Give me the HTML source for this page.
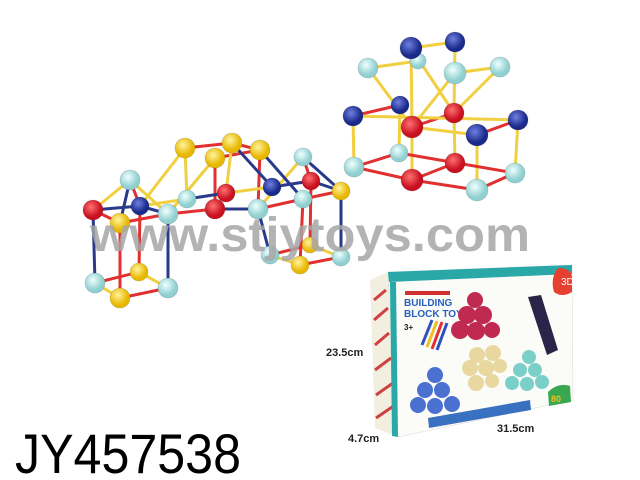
<!DOCTYPE html>
<html><head><meta charset="utf-8"><style>
html,body{margin:0;padding:0;background:#fff;width:640px;height:480px;overflow:hidden}
svg{display:block}
</style></head><body>
<svg width="640" height="480" viewBox="0 0 640 480" xmlns="http://www.w3.org/2000/svg" font-family="Liberation Sans, sans-serif">
<defs>
<radialGradient id="gy" cx="40%" cy="35%"><stop offset="0" stop-color="#fff3a0"/><stop offset="1" stop-color="#e8b800"/></radialGradient>
<radialGradient id="gr" cx="40%" cy="35%"><stop offset="0" stop-color="#ff7070"/><stop offset="1" stop-color="#c81020"/></radialGradient>
<radialGradient id="gb" cx="40%" cy="35%"><stop offset="0" stop-color="#7080e0"/><stop offset="1" stop-color="#1a2a8a"/></radialGradient>
<radialGradient id="gl" cx="40%" cy="35%"><stop offset="0" stop-color="#f0ffff"/><stop offset="1" stop-color="#90d0d0"/></radialGradient>
</defs>

<!-- left structure connectors -->
<g stroke-width="3" stroke-linecap="round">
<line x1="93" y1="210" x2="95" y2="283" stroke="#2a3a8a"/>
<line x1="120" y1="223" x2="120" y2="298" stroke="#e03030"/>
<line x1="140" y1="206" x2="139" y2="272" stroke="#e03030"/>
<line x1="168" y1="214" x2="168" y2="288" stroke="#2a3a8a"/>
<line x1="95" y1="283" x2="120" y2="298" stroke="#f0d040"/>
<line x1="120" y1="298" x2="168" y2="288" stroke="#e03030"/>
<line x1="95" y1="283" x2="139" y2="272" stroke="#e03030"/>
<line x1="139" y1="272" x2="168" y2="288" stroke="#f0d040"/>
<line x1="93" y1="210" x2="140" y2="206" stroke="#2a3a8a"/>
<line x1="93" y1="210" x2="120" y2="223" stroke="#e03030"/>
<line x1="120" y1="223" x2="168" y2="214" stroke="#e03030"/>
<line x1="140" y1="206" x2="168" y2="214" stroke="#2a3a8a"/>
<line x1="130" y1="180" x2="93" y2="210" stroke="#f0d040"/>
<line x1="130" y1="180" x2="120" y2="223" stroke="#2a3a8a"/>
<line x1="130" y1="180" x2="140" y2="206" stroke="#e03030"/>
<line x1="130" y1="180" x2="168" y2="214" stroke="#f0d040"/>
<line x1="140" y1="206" x2="185" y2="148" stroke="#f0d040"/>
<line x1="168" y1="214" x2="215" y2="158" stroke="#f0d040"/>
<line x1="185" y1="148" x2="232" y2="143" stroke="#e03030"/>
<line x1="215" y1="158" x2="260" y2="150" stroke="#e03030"/>
<line x1="232" y1="143" x2="260" y2="150" stroke="#e03030"/>
<line x1="185" y1="148" x2="187" y2="199" stroke="#f0d040"/>
<line x1="215" y1="158" x2="215" y2="209" stroke="#e03030"/>
<line x1="232" y1="143" x2="226" y2="193" stroke="#f0d040"/>
<line x1="260" y1="150" x2="258" y2="209" stroke="#e03030"/>
<line x1="232" y1="143" x2="272" y2="187" stroke="#2a3a8a"/>
<line x1="168" y1="214" x2="215" y2="209" stroke="#e03030"/>
<line x1="140" y1="206" x2="187" y2="199" stroke="#f0d040"/>
<line x1="187" y1="199" x2="226" y2="193" stroke="#2a3a8a"/>
<line x1="215" y1="209" x2="258" y2="209" stroke="#2a3a8a"/>
<line x1="226" y1="193" x2="272" y2="187" stroke="#f0d040"/>
<line x1="258" y1="209" x2="303" y2="199" stroke="#e03030"/>
<line x1="272" y1="187" x2="311" y2="181" stroke="#2a3a8a"/>
<line x1="303" y1="157" x2="258" y2="209" stroke="#f0d040"/>
<line x1="303" y1="157" x2="311" y2="181" stroke="#e03030"/>
<line x1="303" y1="157" x2="341" y2="191" stroke="#2a3a8a"/>
<line x1="303" y1="199" x2="341" y2="191" stroke="#e03030"/>
<line x1="311" y1="181" x2="341" y2="191" stroke="#2a3a8a"/>
<line x1="260" y1="150" x2="303" y2="199" stroke="#2a3a8a"/>
<line x1="258" y1="209" x2="270" y2="255" stroke="#2a3a8a"/>
<line x1="303" y1="199" x2="300" y2="265" stroke="#e03030"/>
<line x1="311" y1="181" x2="310" y2="245" stroke="#e03030"/>
<line x1="341" y1="191" x2="341" y2="257" stroke="#2a3a8a"/>
<line x1="270" y1="255" x2="300" y2="265" stroke="#f0d040"/>
<line x1="300" y1="265" x2="341" y2="257" stroke="#e03030"/>
<line x1="270" y1="255" x2="310" y2="245" stroke="#e03030"/>
<line x1="310" y1="245" x2="341" y2="257" stroke="#f0d040"/>
</g>

<!-- right structure connectors -->
<g stroke-width="3" stroke-linecap="round">
<line x1="411" y1="48" x2="455" y2="42" stroke="#f0d040"/>
<line x1="368" y1="68" x2="418" y2="61" stroke="#f0d040"/>
<line x1="455" y1="73" x2="500" y2="67" stroke="#f0d040"/>
<line x1="411" y1="48" x2="412" y2="127" stroke="#f0d040"/>
<line x1="455" y1="42" x2="454" y2="113" stroke="#f0d040"/>
<line x1="368" y1="68" x2="412" y2="127" stroke="#f0d040"/>
<line x1="411" y1="48" x2="454" y2="113" stroke="#f0d040"/>
<line x1="500" y1="67" x2="454" y2="113" stroke="#f0d040"/>
<line x1="455" y1="73" x2="412" y2="127" stroke="#f0d040"/>
<line x1="353" y1="116" x2="400" y2="105" stroke="#e03030"/>
<line x1="412" y1="127" x2="454" y2="113" stroke="#e03030"/>
<line x1="353" y1="116" x2="518" y2="120" stroke="#f0d040"/>
<line x1="412" y1="127" x2="477" y2="135" stroke="#f0d040"/>
<line x1="477" y1="135" x2="518" y2="120" stroke="#e03030"/>
<line x1="353" y1="116" x2="354" y2="167" stroke="#f0d040"/>
<line x1="400" y1="105" x2="399" y2="153" stroke="#f0d040"/>
<line x1="412" y1="127" x2="412" y2="180" stroke="#f0d040"/>
<line x1="454" y1="113" x2="455" y2="163" stroke="#f0d040"/>
<line x1="518" y1="120" x2="515" y2="173" stroke="#f0d040"/>
<line x1="477" y1="135" x2="477" y2="190" stroke="#f0d040"/>
<line x1="354" y1="167" x2="399" y2="153" stroke="#e03030"/>
<line x1="399" y1="153" x2="515" y2="173" stroke="#e03030"/>
<line x1="354" y1="167" x2="412" y2="180" stroke="#e03030"/>
<line x1="412" y1="180" x2="455" y2="163" stroke="#e03030"/>
<line x1="412" y1="180" x2="477" y2="190" stroke="#e03030"/>
<line x1="477" y1="190" x2="515" y2="173" stroke="#e03030"/>
</g>

<!-- balls -->
<g stroke="rgba(0,0,0,0.15)" stroke-width="0.8">
<!-- left -->
<circle cx="93" cy="210" r="10" fill="url(#gr)"/>
<circle cx="130" cy="180" r="10" fill="url(#gl)"/>
<circle cx="140" cy="206" r="9" fill="url(#gb)"/>
<circle cx="120" cy="223" r="10" fill="url(#gy)"/>
<circle cx="168" cy="214" r="10" fill="url(#gl)"/>
<circle cx="185" cy="148" r="10" fill="url(#gy)"/>
<circle cx="215" cy="158" r="10" fill="url(#gy)"/>
<circle cx="232" cy="143" r="10" fill="url(#gy)"/>
<circle cx="260" cy="150" r="10" fill="url(#gy)"/>
<circle cx="187" cy="199" r="9" fill="url(#gl)"/>
<circle cx="226" cy="193" r="9" fill="url(#gr)"/>
<circle cx="215" cy="209" r="10" fill="url(#gr)"/>
<circle cx="272" cy="187" r="9" fill="url(#gb)"/>
<circle cx="258" cy="209" r="10" fill="url(#gl)"/>
<circle cx="303" cy="157" r="9" fill="url(#gl)"/>
<circle cx="311" cy="181" r="9" fill="url(#gr)"/>
<circle cx="303" cy="199" r="9" fill="url(#gl)"/>
<circle cx="341" cy="191" r="9" fill="url(#gy)"/>
<circle cx="95" cy="283" r="10" fill="url(#gl)"/>
<circle cx="139" cy="272" r="9" fill="url(#gy)"/>
<circle cx="120" cy="298" r="10" fill="url(#gy)"/>
<circle cx="168" cy="288" r="10" fill="url(#gl)"/>
<circle cx="270" cy="255" r="9" fill="url(#gl)"/>
<circle cx="310" cy="245" r="8" fill="url(#gy)"/>
<circle cx="300" cy="265" r="9" fill="url(#gy)"/>
<circle cx="341" cy="257" r="9" fill="url(#gl)"/>
<!-- right -->
<circle cx="418" cy="61" r="8" fill="url(#gl)"/>
<circle cx="411" cy="48" r="11" fill="url(#gb)"/>
<circle cx="455" cy="42" r="10" fill="url(#gb)"/>
<circle cx="368" cy="68" r="10" fill="url(#gl)"/>
<circle cx="455" cy="73" r="11" fill="url(#gl)"/>
<circle cx="500" cy="67" r="10" fill="url(#gl)"/>
<circle cx="400" cy="105" r="9" fill="url(#gb)"/>
<circle cx="454" cy="113" r="10" fill="url(#gr)"/>
<circle cx="353" cy="116" r="10" fill="url(#gb)"/>
<circle cx="412" cy="127" r="11" fill="url(#gr)"/>
<circle cx="518" cy="120" r="10" fill="url(#gb)"/>
<circle cx="477" cy="135" r="11" fill="url(#gb)"/>
<circle cx="399" cy="153" r="9" fill="url(#gl)"/>
<circle cx="455" cy="163" r="10" fill="url(#gr)"/>
<circle cx="354" cy="167" r="10" fill="url(#gl)"/>
<circle cx="412" cy="180" r="11" fill="url(#gr)"/>
<circle cx="515" cy="173" r="10" fill="url(#gl)"/>
<circle cx="477" cy="190" r="11" fill="url(#gl)"/>
</g>

<!-- watermark -->
<text x="90" y="251" font-size="48" font-weight="bold" fill="#a6a6a6" fill-opacity="0.85" textLength="440" lengthAdjust="spacingAndGlyphs">www.stjytoys.com</text>

<!-- box -->
<polygon points="370,280 388,272 398,437 375,428" fill="#f2efe0"/>
<g stroke="#d04040" stroke-width="3">
<line x1="374" y1="300" x2="386" y2="290"/><line x1="374" y1="320" x2="388" y2="308"/>
<line x1="375" y1="345" x2="389" y2="333"/><line x1="375" y1="370" x2="391" y2="358"/>
<line x1="376" y1="395" x2="393" y2="383"/><line x1="376" y1="418" x2="395" y2="405"/>
</g>
<polygon points="388,272 572,265 573,400 398,437" fill="#fbfbf8" stroke="#ddd" stroke-width="0.6"/>
<polygon points="388,272 572,265 572,274 389,282" fill="#2aa8a8"/>
<polygon points="390,282 392,436 398,437 396,282" fill="#2aa8a8"/>
<path d="M558,268 q14,0 14,10 l0,14 q-10,6 -18,0 q-4,-14 4,-24z" fill="#e64030"/>
<text x="561" y="285" font-size="10" fill="#fff">3D</text>
<rect x="405" y="291" width="45" height="4" fill="#d03030"/>
<text x="404" y="306" font-size="10" font-weight="bold" fill="#2a60c0">BUILDING</text>
<text x="404" y="317" font-size="10" font-weight="bold" fill="#2a60c0">BLOCK TOY</text>
<text x="404" y="330" font-size="8" font-weight="bold" fill="#222">3+</text>
<g stroke-width="3"><line x1="422" y1="345" x2="432" y2="320" stroke="#3050c0"/><line x1="427" y1="347" x2="437" y2="321" stroke="#f0c020"/><line x1="432" y1="349" x2="442" y2="322" stroke="#e03030"/><line x1="437" y1="350" x2="447" y2="323" stroke="#3050c0"/></g>
<g fill="#c02a50"><circle cx="475" cy="300" r="8"/><circle cx="467" cy="315" r="9"/><circle cx="483" cy="315" r="9"/><circle cx="460" cy="330" r="9"/><circle cx="476" cy="331" r="9"/><circle cx="492" cy="330" r="8"/></g>
<polygon points="528,297 541,295 558,350 547,355" fill="#2a2448"/>
<g fill="#e8d8a0"><circle cx="477" cy="355" r="8"/><circle cx="493" cy="353" r="8"/><circle cx="470" cy="368" r="8"/><circle cx="486" cy="368" r="8"/><circle cx="500" cy="366" r="7"/><circle cx="476" cy="383" r="8"/><circle cx="492" cy="381" r="7"/></g>
<g fill="#7ad0c8"><circle cx="529" cy="357" r="7"/><circle cx="520" cy="370" r="7"/><circle cx="535" cy="370" r="7"/><circle cx="512" cy="383" r="7"/><circle cx="527" cy="384" r="7"/><circle cx="542" cy="382" r="7"/></g>
<g fill="#4a70d0"><circle cx="435" cy="375" r="8"/><circle cx="425" cy="390" r="8"/><circle cx="442" cy="390" r="8"/><circle cx="418" cy="405" r="8"/><circle cx="435" cy="406" r="8"/><circle cx="452" cy="404" r="8"/></g>
<polygon points="428,418 530,400 531,410 429,428" fill="#3a70c0"/>
<path d="M548,392 q10,-10 22,-6 l1,16 -22,4z" fill="#3aa850"/>
<text x="551" y="402" font-size="9" font-weight="bold" fill="#f0c020">80</text>

<!-- dimension labels -->
<g font-size="11" fill="#222" font-weight="bold">
<text x="326" y="356">23.5cm</text>
<text x="348" y="442">4.7cm</text>
<text x="497" y="432">31.5cm</text>
</g>

<!-- code -->
<text x="15" y="473" font-size="56" fill="#000" textLength="226" lengthAdjust="spacingAndGlyphs">JY457538</text>
</svg>
</body></html>
